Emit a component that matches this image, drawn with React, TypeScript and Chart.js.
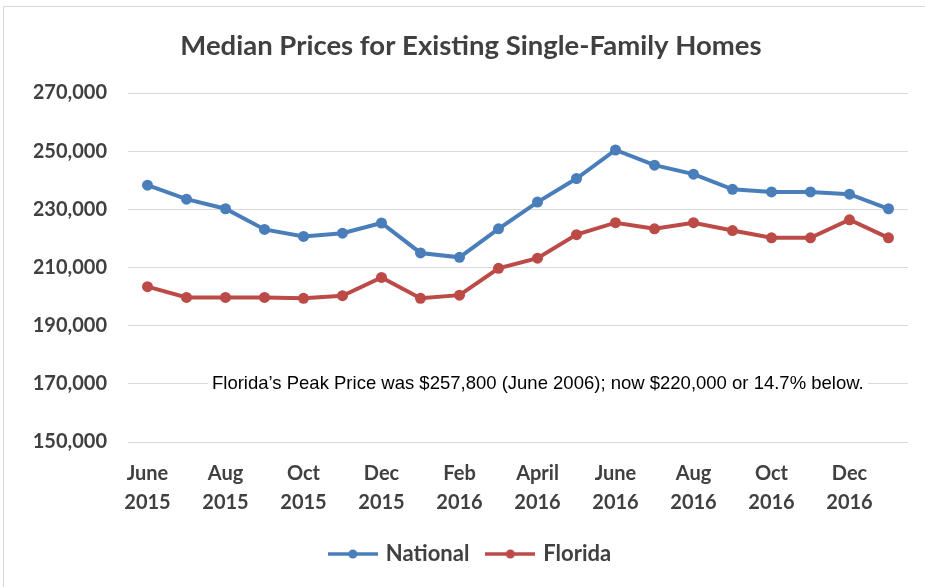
import React, { useEffect, useRef } from "react";
import { Chart, registerables } from "chart.js";

Chart.register(...registerables);

const categories = [
  "Jun 2015", "Jul 2015", "Aug 2015", "Sep 2015", "Oct 2015", "Nov 2015", "Dec 2015",
  "Jan 2016", "Feb 2016", "Mar 2016", "Apr 2016", "May 2016", "Jun 2016", "Jul 2016",
  "Aug 2016", "Sep 2016", "Oct 2016", "Nov 2016", "Dec 2016", "Jan 2017",
];

const tickLabels: (string | string[])[] = [
  ["June", "2015"], "", ["Aug", "2015"], "", ["Oct", "2015"], "", ["Dec", "2015"], "",
  ["Feb", "2016"], "", ["April", "2016"], "", ["June", "2016"], "", ["Aug", "2016"], "",
  ["Oct", "2016"], "", ["Dec", "2016"], "",
];

const nationalValues = [
  238300, 233500, 230200, 223100, 220700, 221800, 225300, 215000, 213500, 223300,
  232500, 240600, 250400, 245200, 242100, 236900, 236000, 236000, 235200, 230200,
];

const floridaValues = [
  203400, 199700, 199700, 199700, 199400, 200300, 206600, 199400, 200500, 209700,
  213200, 221300, 225400, 223300, 225400, 222700, 220200, 220200, 226400, 220200,
];

const yTicks = [150000, 170000, 190000, 210000, 230000, 250000, 270000];

const titleText = "Median Prices for Existing Single-Family Homes";
const noteText =
  "Florida\u2019s Peak Price was $257,800 (June 2006); now $220,000 or 14.7% below.";

const BLUE = "#4a7ebb";
const RED = "#bc4b48";
const TEXT = "#404040";
const GRID = "#d9d9d9";

function legendIcon(color: string): HTMLCanvasElement {
  const c = document.createElement("canvas");
  c.width = 50;
  c.height = 12;
  const g = c.getContext("2d")!;
  g.strokeStyle = color;
  g.lineWidth = 3.5;
  g.beginPath();
  g.moveTo(0, 6);
  g.lineTo(50, 6);
  g.stroke();
  g.fillStyle = color;
  g.beginPath();
  g.arc(25, 6, 4.5, 0, Math.PI * 2);
  g.fill();
  return c;
}

const textPlugin = {
  id: "textPlugin",
  afterDraw(chart: any) {
    const { ctx } = chart;
    ctx.save();
    ctx.font = "bold 27.5px Lato, sans-serif";
    ctx.fillStyle = TEXT;
    ctx.textAlign = "center";
    ctx.textBaseline = "middle";
    ctx.fillText(titleText, 471, 46);
    ctx.restore();
  },
  afterDatasetsDraw(chart: any) {
    const { ctx, chartArea, scales } = chart;
    const y = scales.y.getPixelForValue(yTicks[1]);
    ctx.save();
    ctx.font = "18.5px 'Liberation Sans', Arial, sans-serif";
    const w = ctx.measureText(noteText).width;
    const x = chartArea.left + 84;
    ctx.fillStyle = "#ffffff";
    ctx.fillRect(x - 4, y - 11, w + 8, 22);
    ctx.fillStyle = "#000000";
    ctx.textBaseline = "middle";
    ctx.fillText(noteText, x, y);
    ctx.restore();
  },
};

export default function App() {
  const ref = useRef<HTMLCanvasElement>(null);

  useEffect(() => {
    document.body.style.margin = "0";
    const nIcon = legendIcon(BLUE);
    const fIcon = legendIcon(RED);
    const chart = new Chart(ref.current!, {
      type: "line",
      data: {
        labels: categories,
        datasets: [
          {
            label: "National",
            data: nationalValues,
            borderColor: BLUE,
            backgroundColor: BLUE,
            borderWidth: 4,
            pointRadius: 5.5,
            pointBackgroundColor: BLUE,
            pointBorderWidth: 0,
            pointStyle: "circle",
            tension: 0,
          },
          {
            label: "Florida",
            data: floridaValues,
            borderColor: RED,
            backgroundColor: RED,
            borderWidth: 4,
            pointRadius: 5.5,
            pointBackgroundColor: RED,
            pointBorderWidth: 0,
            pointStyle: "circle",
            tension: 0,
          },
        ],
      },
      options: {
        animation: false,
        responsive: false,
        layout: { padding: { left: 34, right: 17, top: 93, bottom: 12 } },
        scales: {
          x: {
            offset: true,
            grid: { display: false, drawTicks: false },
            border: { display: false },
            ticks: {
              autoSkip: false,
              maxRotation: 0,
              minRotation: 0,
              padding: 17,
              color: TEXT,
              font: { family: "Lato", size: 20, weight: "bold", lineHeight: 1.45 },
              callback: (_v: any, i: number) => tickLabels[i],
            },
            afterFit: (s: any) => { s.height = 82; },
          },
          y: {
            min: 150000,
            max: 270000,
            grid: { color: GRID, lineWidth: 1, drawTicks: false },
            border: { display: false },
            afterBuildTicks: (s: any) => { s.ticks = yTicks.map((v) => ({ value: v })); },
            ticks: {
              padding: 21,
              color: TEXT,
              font: { family: "Lato", size: 20, weight: "bold" },
              callback: (v: any) => Number(v).toLocaleString("en-US"),
            },
            afterFit: (s: any) => { s.width = 94; },
          },
        },
        plugins: {
          title: { display: false },
          legend: {
            position: "bottom",
            onClick: () => {},
            labels: {
              color: TEXT,
              font: { family: "Lato", size: 22, weight: "bold" },
              usePointStyle: true,
              pointStyleWidth: 44,
              padding: 19,
              generateLabels: () => [
                { text: "National", pointStyle: nIcon, fillStyle: BLUE, strokeStyle: BLUE, lineWidth: 0, fontColor: TEXT, datasetIndex: 0 } as any,
                { text: "Florida", pointStyle: fIcon, fillStyle: RED, strokeStyle: RED, lineWidth: 0, fontColor: TEXT, datasetIndex: 1 } as any,
              ],
            },
          },
          tooltip: { enabled: false },
        },
      },
      plugins: [textPlugin],
    });
    return () => chart.destroy();
  }, []);

  return (
    <div style={{ position: "relative", width: 925, height: 587, background: "#fff", overflow: "hidden" }}>
      <canvas ref={ref} width={925} height={587} style={{ display: "block" }} />
      <div
        style={{
          position: "absolute", left: 3, top: 6, width: 1000, height: 1000,
          borderLeft: "1px solid #d9d9d9", borderTop: "1px solid #d9d9d9", pointerEvents: "none",
        }}
      />
    </div>
  );
}
